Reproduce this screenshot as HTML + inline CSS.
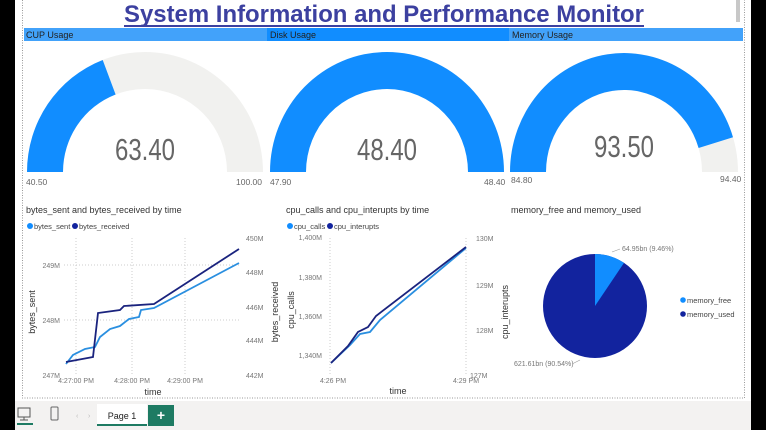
<!DOCTYPE html>
<html><head><meta charset="utf-8"><style>
body{margin:0;width:766px;height:430px;overflow:hidden;background:#fff;font-family:"Liberation Sans",sans-serif}
svg{display:block}
</style></head><body>
<svg width="766" height="430" viewBox="0 0 766 430" font-family="Liberation Sans, sans-serif">
<rect width="766" height="430" fill="#fff"/>
<rect x="0" y="0" width="15" height="430" fill="#000"/>
<rect x="751" y="0" width="15" height="430" fill="#000"/>
<rect x="22.5" y="-1" width="722" height="399" fill="none" stroke="#999" stroke-dasharray="1,1.5"/>
<rect x="736" y="0" width="4" height="22" fill="#c8c8c8"/>
<text x="384" y="22" text-anchor="middle" font-size="24" font-weight="bold" fill="#3c40a0" textLength="520" lengthAdjust="spacingAndGlyphs">System Information and Performance Monitor</text>
<rect x="124" y="25" width="520" height="2" fill="#3c40a0"/>
<rect x="24" y="28" width="243" height="13" fill="#42a2fa"/>
<rect x="267" y="28" width="242" height="13" fill="#118dff"/>
<rect x="509" y="28" width="234" height="13" fill="#42a2fa"/>
<g font-size="9" fill="#222"><text x="26" y="38">CUP Usage</text><text x="270" y="38">Disk Usage</text><text x="512" y="38">Memory Usage</text></g>
<path d="M27,172 A118,120 0 0 1 263,172 L227,172 A82,83 0 0 0 63,172 Z" fill="#f1f1ef"/>
<path d="M27,172 A118,120 0 0 1 102.7,60 L115.6,94.5 A82,83 0 0 0 63,172 Z" fill="#118dff"/>
<path d="M270,172 A117,120 0 0 1 504,172 L468,172 A81,83 0 0 0 306,172 Z" fill="#118dff"/>
<path d="M510,172 A114,119 0 0 1 738,172 L702,172 A78,82 0 0 0 546,172 Z" fill="#f1f1ef"/>
<path d="M510,172 A114,119 0 0 1 733,137.2 L698.6,148 A78,82 0 0 0 546,172 Z" fill="#118dff"/>
<g font-size="31" fill="#666" text-anchor="middle"><text x="145" y="160" textLength="60" lengthAdjust="spacingAndGlyphs">63.40</text><text x="387" y="160" textLength="60" lengthAdjust="spacingAndGlyphs">48.40</text><text x="624" y="157" textLength="60" lengthAdjust="spacingAndGlyphs">93.50</text></g>
<g font-size="8.5" fill="#666"><text x="26" y="185">40.50</text><text x="236" y="185">100.00</text><text x="270" y="185">47.90</text><text x="484" y="185">48.40</text><text x="511" y="183">84.80</text><text x="720" y="182">94.40</text></g>
<g font-size="9" fill="#333"><text x="26" y="213">bytes_sent and bytes_received by time</text><text x="286" y="213">cpu_calls and cpu_interupts by time</text><text x="511" y="213">memory_free and memory_used</text></g>
<g font-size="7.5" fill="#444">
<circle cx="30" cy="226" r="3" fill="#118dff"/><text x="34" y="229">bytes_sent</text>
<circle cx="75" cy="226" r="3" fill="#12239e"/><text x="79" y="229">bytes_received</text>
<circle cx="290" cy="226" r="3" fill="#118dff"/><text x="294" y="229">cpu_calls</text>
<circle cx="330" cy="226" r="3" fill="#12239e"/><text x="334" y="229">cpu_interupts</text>
</g>
<g stroke="#ccc" stroke-dasharray="1,2" fill="none">
<line x1="64" y1="265" x2="240" y2="265"/><line x1="64" y1="320" x2="240" y2="320"/>
<line x1="76" y1="238" x2="76" y2="375"/><line x1="132" y1="238" x2="132" y2="375"/><line x1="185" y1="238" x2="185" y2="375"/>
<line x1="330" y1="238" x2="330" y2="375"/><line x1="466" y1="238" x2="466" y2="375"/>
</g>
<g font-size="7" fill="#777">
<text x="60" y="268" text-anchor="end">249M</text><text x="60" y="323" text-anchor="end">248M</text><text x="60" y="378" text-anchor="end">247M</text>
<text x="246" y="241">450M</text><text x="246" y="275">448M</text><text x="246" y="310">446M</text><text x="246" y="343">444M</text><text x="246" y="378">442M</text>
<text x="76" y="383" text-anchor="middle">4:27:00 PM</text><text x="132" y="383" text-anchor="middle">4:28:00 PM</text><text x="185" y="383" text-anchor="middle">4:29:00 PM</text>
<text x="322" y="240" text-anchor="end">1,400M</text><text x="322" y="280" text-anchor="end">1,380M</text><text x="322" y="319" text-anchor="end">1,360M</text><text x="322" y="358" text-anchor="end">1,340M</text>
<text x="476" y="241">130M</text><text x="476" y="288">129M</text><text x="476" y="333">128M</text><text x="470" y="378">127M</text>
<text x="333" y="383" text-anchor="middle">4:26 PM</text><text x="466" y="383" text-anchor="middle">4:29 PM</text>
<text x="622" y="251">64.95bn (9.46%)</text><text x="514" y="366">621.61bn (90.54%)</text>
</g>
<g font-size="9" fill="#333">
<text x="153" y="395" text-anchor="middle">time</text><text x="398" y="394" text-anchor="middle">time</text>
<text transform="translate(35,312) rotate(-90)" text-anchor="middle">bytes_sent</text>
<text transform="translate(278,312) rotate(-90)" text-anchor="middle">bytes_received</text>
<text transform="translate(294,310) rotate(-90)" text-anchor="middle">cpu_calls</text>
<text transform="translate(508,312) rotate(-90)" text-anchor="middle">cpu_interupts</text>
</g>
<polyline fill="none" stroke="#2a8fe0" stroke-width="1.8" points="66,364 73,355 85,349 95,347 100,337 110,329 120,326 129,319 139,317 141,310 154,308 239,263"/>
<polyline fill="none" stroke="#1a237e" stroke-width="1.8" points="66,362 93,357 98,313 120,310 124,306 154,304 239,249"/>
<polyline fill="none" stroke="#2a8fe0" stroke-width="1.8" points="331,363 350,345 360,334 370,332 380,320 466,248"/>
<polyline fill="none" stroke="#1a237e" stroke-width="1.8" points="331,363 348,346 358,332 368,327 376,316 466,247"/>
<circle cx="595" cy="306" r="52" fill="#12239e"/>
<path d="M595,306 L595,254 A52,52 0 0 1 624,262.9 Z" fill="#118dff"/>
<line x1="612" y1="252" x2="620" y2="249" stroke="#999" stroke-width="0.6"/>
<line x1="572" y1="364" x2="580" y2="360" stroke="#999" stroke-width="0.6"/>
<g font-size="7.5" fill="#444">
<circle cx="683" cy="300" r="2.8" fill="#118dff"/><text x="687" y="303">memory_free</text>
<circle cx="683" cy="314" r="2.8" fill="#12239e"/><text x="687" y="317">memory_used</text>
</g>
<rect x="15" y="401" width="736" height="29" fill="#f3f2f1"/>
<rect x="18" y="408" width="12" height="9" fill="none" stroke="#555" stroke-width="1"/>
<line x1="24" y1="417" x2="24" y2="420" stroke="#555"/><line x1="20" y1="420" x2="28" y2="420" stroke="#555"/>
<rect x="17" y="423" width="16" height="2" fill="#1e7b63"/>
<rect x="51" y="407" width="7" height="13" rx="1" fill="none" stroke="#666"/>
<text x="76" y="418" font-size="7" fill="#bbb">‹</text><text x="88" y="418" font-size="7" fill="#bbb">›</text>
<rect x="97" y="404" width="50" height="22" fill="#fff"/>
<rect x="97" y="424" width="50" height="2" fill="#1e7b63"/>
<text x="122" y="419" font-size="9" text-anchor="middle" fill="#222">Page 1</text>
<rect x="148" y="405" width="26" height="21" fill="#1e7b63"/>
<text x="161" y="420" font-size="14" font-weight="bold" text-anchor="middle" fill="#fff">+</text>
</svg>
</body></html>
